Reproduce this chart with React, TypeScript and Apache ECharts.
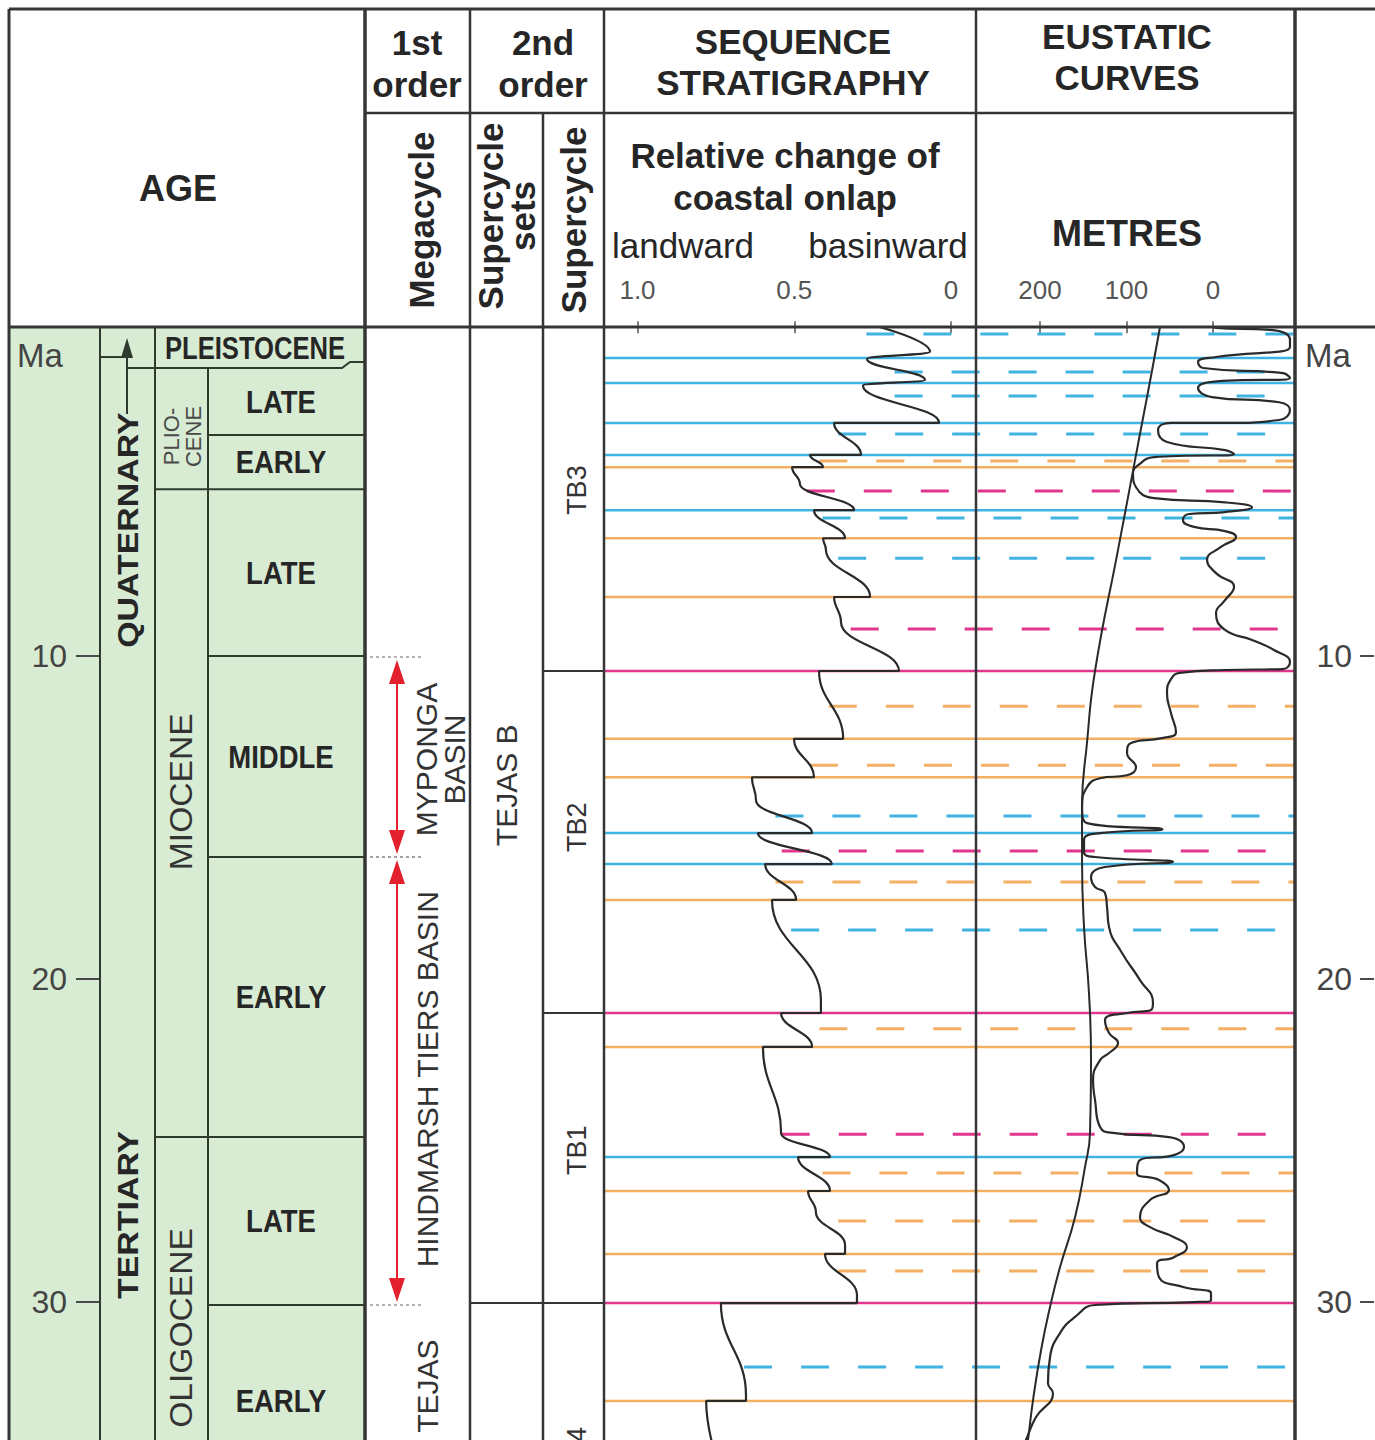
import React, { useEffect, useRef } from "react";
import * as echarts from "echarts";

// ---------------- data ----------------
const MA_TOP = -0.19;
const MA_BOTTOM = 34.27;
const MA_TICKS = [10, 20, 30];

const ONLAP_MIN = -0.0797;
const ONLAP_MAX = 1.1069;
const ONLAP_TICKS = [1.0, 0.5, 0];

const METRES_MIN = -94.8;
const METRES_MAX = 274.0;
const METRE_TICKS = [200, 100, 0];

const PERIODS = [
  { name: "QUATERNARY", from: -0.19, to: 0.74 },
  { name: "TERTIARY", from: 0.74, to: 36.0 },
];
const PERIOD_LABEL_AT = [6.1, 27.3];

const EPOCHS = [
  { name: "PLEISTOCENE", from: -0.19, to: 1.08 },
  { name: "PLIO-\nCENE", from: 1.08, to: 4.83 },
  { name: "MIOCENE", from: 4.83, to: 24.89 },
  { name: "OLIGOCENE", from: 24.89, to: 36.0 },
];
const EPOCH_LABEL_AT = [0.45, 3.2, 14.2, 30.8];

const STAGES = [
  { name: "LATE", from: 1.08, to: 3.15 },
  { name: "EARLY", from: 3.15, to: 4.83 },
  { name: "LATE", from: 4.83, to: 10.0 },
  { name: "MIDDLE", from: 10.0, to: 16.22 },
  { name: "EARLY", from: 16.22, to: 24.89 },
  { name: "LATE", from: 24.89, to: 30.09 },
  { name: "EARLY", from: 30.09, to: 36.0 },
];

const BASINS = [
  { name: "MYPONGA\nBASIN", from: 10.03, to: 16.22 },
  { name: "HINDMARSH TIERS BASIN", from: 16.22, to: 30.09 },
];
const BASIN_LABEL_AT = [13.2, 23.1];
const MEGACYCLE_LABELS = [{ name: "TEJAS", at: 32.6 }];

const SUPERCYCLE_SETS = [{ name: "TEJAS B", from: -1, to: 30.03 }];
const SUPERCYCLE_SET_LABEL_AT = [14.0];
const SUPERCYCLES = [
  { name: "TB3", from: -1, to: 10.46 },
  { name: "TB2", from: 10.46, to: 21.05 },
  { name: "TB1", from: 21.05, to: 30.03 },
  { name: "TA4", from: 30.03, to: 40 },
];
const SUPERCYCLE_LABEL_AT = [4.86, 15.3, 25.3, 34.6];

// relative change of coastal onlap [onlap, Ma]
const ONLAP = [
  [0.29, -0.35], [0.067, 0.58], [0.268, 0.8], [0.083, 1.45], [0.281, 1.62],
  [0.038, 2.78], [0.373, 2.78], [0.287, 3.77], [0.45, 3.77],
  [0.408, 4.15], [0.507, 4.15], [0.482, 4.67], [0.309, 5.48], [0.437, 5.48],
  [0.338, 6.35], [0.408, 6.35], [0.399, 6.71], [0.258, 8.17], [0.373, 8.17],
  [0.351, 8.94], [0.166, 10.46], [0.421, 10.46], [0.344, 12.56], [0.501, 12.56],
  [0.437, 13.75], [0.635, 13.75], [0.622, 14.46], [0.443, 15.48], [0.616, 15.48],
  [0.38, 16.44], [0.593, 16.44], [0.494, 17.55], [0.571, 17.55], [0.415, 20.65],
  [0.415, 21.05], [0.542, 21.05], [0.443, 22.1], [0.6, 22.1], [0.542, 24.77],
  [0.386, 25.51], [0.488, 25.51], [0.386, 26.56], [0.456, 26.56], [0.431, 27.21],
  [0.338, 28.23], [0.338, 28.51], [0.402, 28.51], [0.3, 29.78], [0.3, 30.03],
  [0.734, 30.03], [0.654, 32.88], [0.654, 33.06], [0.781, 33.06], [0.737, 35.2],
];

// short-term eustatic curve [metres, Ma]
const EUSTATIC_SHORT = [
  [9.2, -0.47], [-3.5, -0.16], [-65.9, -0.1], [-89.0, 0.21], [-89.0, 0.43],
  [-3.5, 0.74], [17.3, 0.89], [11.6, 1.08], [-80.9, 1.24], [-89.0, 1.39],
  [1.2, 1.51], [17.3, 1.7], [1.2, 1.98], [-76.3, 2.14], [-89.0, 2.38],
  [-76.3, 2.69], [-13.9, 2.78], [48.6, 2.78], [63.6, 3.0], [53.2, 3.37],
  [-13.9, 3.62], [-24.3, 3.74], [68.2, 3.84], [86.7, 4.09], [92.5, 4.34],
  [89.0, 4.77], [68.2, 5.11], [-13.9, 5.24], [-45.1, 5.39], [-13.9, 5.54],
  [27.7, 5.6], [34.7, 5.79], [22.0, 6.0], [-13.9, 6.13], [-26.6, 6.31],
  [-9.2, 6.62], [6.9, 7.02], [-3.5, 7.43], [-24.3, 7.86], [-13.9, 8.27],
  [-3.5, 8.67], [-13.9, 9.19], [-45.1, 9.5], [-70.5, 9.81], [-89.0, 10.18],
  [-80.9, 10.4], [-13.9, 10.43], [38.2, 10.52], [48.6, 10.71], [53.2, 11.15],
  [48.6, 11.76], [42.8, 12.35], [59.0, 12.54], [94.8, 12.69], [99.4, 13.0],
  [89.0, 13.44], [99.4, 13.69], [130.6, 13.78], [145.7, 14.06], [151.4, 14.67],
  [145.7, 15.17], [58.5, 15.36], [130.6, 15.48], [149.1, 15.69], [149.1, 16.07],
  [136.4, 16.22], [46.2, 16.37], [124.9, 16.53], [141.0, 16.84], [136.4, 17.15],
  [124.9, 17.33], [122.5, 17.77], [120.2, 18.39], [105.2, 19.19], [84.4, 20.03],
  [69.4, 20.74], [71.7, 20.96], [99.4, 21.05], [124.9, 21.27], [120.2, 21.67],
  [109.8, 21.98], [120.2, 22.29], [130.6, 22.51], [138.7, 23.13], [136.4, 23.74],
  [130.6, 24.58], [113.3, 24.77], [50.9, 24.89], [33.5, 25.2], [45.1, 25.45],
  [84.4, 25.6], [87.9, 26.0], [62.4, 26.22], [50.9, 26.53], [72.8, 26.84],
  [84.4, 27.37], [72.8, 27.68], [45.1, 27.99], [30.1, 28.3], [45.1, 28.61],
  [64.7, 28.8], [62.4, 29.23], [33.5, 29.54], [2.3, 29.73], [2.3, 29.94],
  [22.0, 30.0], [136.4, 30.09], [159.5, 30.46], [176.9, 30.96], [188.4, 31.7],
  [190.8, 32.51], [185.0, 32.82], [204.6, 33.56], [216.2, 34.27], [225.4, 34.89],
];

// long-term eustatic curve [metres, Ma]
const EUSTATIC_LONG = [
  [59.0, -0.72], [61.3, -0.19], [89.0, 3.77], [109.8, 6.71], [136.4, 10.46],
  [145.7, 12.69], [151.4, 14.67], [151.4, 16.31], [149.1, 18.39], [143.4, 20.43],
  [141.0, 22.51], [142.2, 24.77], [148.0, 25.82], [159.5, 27.37], [176.9, 28.92],
  [188.4, 30.15], [198.8, 31.49], [208.1, 33.04], [213.9, 34.27], [217.3, 34.89],
];

// surfaces: solid lines [Ma]; dashed lines [Ma, onlap value where the dash starts]
const SOLID_BLUE = [0.77, 1.54, 2.78, 3.77, 5.48, 15.48, 16.44, 25.51];
const SOLID_ORANGE = [4.15, 6.35, 8.17, 12.56, 13.75, 17.55, 22.1, 26.56, 28.51, 33.06];
const SOLID_MAGENTA = [10.46, 21.05, 30.03];
const DASHED_BLUE = [
  [0.03, 0.27], [1.2, 0.18], [1.95, 0.18], [3.12, 0.36], [5.72, 0.41],
  [6.97, 0.36], [14.95, 0.56], [18.48, 0.51], [32.01, 0.66],
];
const DASHED_ORANGE = [
  [3.96, 0.42], [11.55, 0.39], [13.38, 0.45], [16.99, 0.56], [21.54, 0.42],
  [26.0, 0.41], [27.49, 0.36], [29.04, 0.36],
];
const DASHED_MAGENTA = [[4.89, 0.46], [9.16, 0.32], [16.03, 0.54], [24.8, 0.54]];

// ---------------- layout & style ----------------
const W = 1375;
const H = 1440;
const GRID_TOP = 327;
const GRID_H = H - GRID_TOP;
const COL = {
  left: 9, period: 100, arrow: 127, epoch: 155, stage: 208, ageRight: 365,
  basinArrow: 397, sets: 470, sc: 543, seq: 604, eus: 976, right: 1295,
};
const FONT = "'Liberation Sans', Arial, Helvetica, sans-serif";
const FRAME = "#353535";
const AGE_LINE = "#2e3a2e";
const GREEN = "#d8ebd3";
const TEXT = "#262626";
const GREY_TEXT = "#444444";
const CURVE = "#2a2a2a";
const RED = "#e3202b";
const SURF_COLORS = ["#40b3e2", "#f3b064", "#e0368e"];

function txt(text: string, x: number, y: number, font: string, o: any = {}) {
  return {
    type: "text",
    x,
    y,
    rotation: o.rot || 0,
    scaleX: o.sx || 1,
    z: o.z == null ? 5 : o.z,
    silent: true,
    style: {
      text,
      font,
      fill: o.fill || TEXT,
      align: "center",
      verticalAlign: "middle",
      textAlign: "center",
      textVerticalAlign: "middle",
      lineHeight: o.lh,
    },
  };
}

function renderAge(params: any, api: any) {
  const Y = (m: number) => api.coord([0, m])[1];
  const ch: any[] = [];
  const L = (x1: number, y1: number, x2: number, y2: number) =>
    ch.push({ type: "line", shape: { x1, y1, x2, y2 }, style: { stroke: AGE_LINE, lineWidth: 2 } });
  const top = Y(MA_TOP);
  const bottom = Y(40);
  // vertical separators
  L(COL.period, top, COL.period, bottom);
  L(COL.epoch, top, COL.epoch, bottom);
  L(COL.stage, Y(EPOCHS[1].from), COL.stage, bottom);
  // period boundary + arrow label
  L(COL.period, Y(PERIODS[0].to), COL.arrow, Y(PERIODS[0].to));
  L(COL.arrow, Y(2.5), COL.arrow, Y(0.5));
  const tipY = Y(0.15);
  ch.push({ type: "polygon", shape: { points: [[COL.arrow, tipY], [COL.arrow - 6, tipY + 20], [COL.arrow + 6, tipY + 20]] }, style: { fill: AGE_LINE } });
  PERIODS.forEach((p, i) => {
    ch.push(txt(p.name, COL.arrow + 1, Y(PERIOD_LABEL_AT[i]), `bold 30px ${FONT}`, { rot: Math.PI / 2, sx: 1.13 }));
  });
  // pleistocene lower boundary (with jog)
  const yPl = Y(EPOCHS[0].to);
  const yPl2 = Y(0.89);
  ch.push({ type: "polyline", shape: { points: [[COL.arrow, yPl], [342, yPl], [350, yPl2], [COL.ageRight, yPl2]] }, style: { stroke: AGE_LINE, lineWidth: 2, fill: null } });
  // epochs
  EPOCHS.forEach((e, i) => {
    if (i >= 2) L(COL.epoch, Y(e.from), COL.ageRight, Y(e.from));
    const yc = Y(EPOCH_LABEL_AT[i]);
    if (i === 0) ch.push(txt(e.name, 255, yc, `bold 32px ${FONT}`, { sx: 0.8 }));
    else if (i === 1) ch.push(txt(e.name, 182, yc, `22px ${FONT}`, { rot: Math.PI / 2, lh: 22, fill: "#4a4a4a" }));
    else ch.push(txt(e.name, 181, yc, `32px ${FONT}`, { rot: Math.PI / 2, sx: 1.05, fill: "#333" }));
  });
  // stages
  const epochStarts = EPOCHS.map((e) => e.from);
  STAGES.forEach((s, i) => {
    if (i > 0 && epochStarts.indexOf(s.from) < 0) L(COL.stage, Y(s.from), COL.ageRight, Y(s.from));
    ch.push(txt(s.name, 281, Y((s.from + s.to) / 2), `bold 32px ${FONT}`, { sx: 0.86 }));
  });
  return { type: "group", children: ch };
}

function renderColumns(params: any, api: any) {
  const Y = (m: number) => api.coord([0, m])[1];
  const ch: any[] = [];
  const ax = COL.basinArrow;
  BASINS.forEach((b, i) => {
    const y1 = Y(b.from) + 3;
    const y2 = Y(b.to) - 3;
    ch.push({ type: "line", shape: { x1: ax, y1: y1 + 10, x2: ax, y2: y2 - 10 }, style: { stroke: RED, lineWidth: 2 } });
    ch.push({ type: "polygon", shape: { points: [[ax, y1], [ax - 8, y1 + 24], [ax + 8, y1 + 24]] }, style: { fill: RED } });
    ch.push({ type: "polygon", shape: { points: [[ax, y2], [ax - 8, y2 - 24], [ax + 8, y2 - 24]] }, style: { fill: RED } });
    [b.from, b.to].forEach((m) => {
      ch.push({ type: "line", shape: { x1: 370, y1: Y(m), x2: 422, y2: Y(m) }, style: { stroke: "#9a9a9a", lineWidth: 1.5, lineDash: [3, 3] } });
    });
    ch.push(txt(b.name, i === 0 ? 440 : 427, Y(BASIN_LABEL_AT[i]), `30px ${FONT}`, { rot: Math.PI / 2, lh: 28, fill: "#333" }));
  });
  MEGACYCLE_LABELS.forEach((m) => ch.push(txt(m.name, 427, Y(m.at), `30px ${FONT}`, { rot: Math.PI / 2, fill: "#333" })));
  SUPERCYCLE_SETS.forEach((s, i) => {
    ch.push({ type: "line", shape: { x1: COL.sets, y1: Y(s.to), x2: COL.sc, y2: Y(s.to) }, style: { stroke: FRAME, lineWidth: 2 } });
    ch.push(txt(s.name, 506, Y(SUPERCYCLE_SET_LABEL_AT[i]), `30px ${FONT}`, { rot: Math.PI / 2, fill: "#333" }));
  });
  SUPERCYCLES.forEach((s, i) => {
    if (i < SUPERCYCLES.length - 1)
      ch.push({ type: "line", shape: { x1: COL.sc, y1: Y(s.to), x2: COL.seq, y2: Y(s.to) }, style: { stroke: FRAME, lineWidth: 2 } });
    ch.push(txt(s.name, 577, Y(SUPERCYCLE_LABEL_AT[i]), `27px ${FONT}`, { rot: Math.PI / 2, fill: "#333" }));
  });
  return { type: "group", children: ch };
}

function renderSurface(params: any, api: any) {
  const v = api.value(0);
  const m = api.value(1);
  const c = api.value(2);
  const dashed = api.value(3) === 1;
  const p = api.coord([v, m]);
  return {
    type: "line",
    shape: { x1: p[0], y1: p[1], x2: COL.right, y2: p[1] },
    style: { stroke: SURF_COLORS[c], lineWidth: dashed ? 3 : 2.5, lineDash: dashed ? [28, 29] : null },
  };
}

function buildOption() {
  const surfaces: number[][] = [];
  SOLID_BLUE.forEach((m) => surfaces.push([ONLAP_MAX, m, 0, 0]));
  SOLID_ORANGE.forEach((m) => surfaces.push([ONLAP_MAX, m, 1, 0]));
  SOLID_MAGENTA.forEach((m) => surfaces.push([ONLAP_MAX, m, 2, 0]));
  DASHED_BLUE.forEach(([m, v]) => surfaces.push([v, m, 0, 1]));
  DASHED_ORANGE.forEach(([m, v]) => surfaces.push([v, m, 1, 1]));
  DASHED_MAGENTA.forEach(([m, v]) => surfaces.push([v, m, 2, 1]));

  const gridBase = { top: GRID_TOP, height: GRID_H, containLabel: false, outerBoundsMode: "none", show: false };
  const maAxis = (gridIndex: number, extra: any = {}) => ({
    gridIndex, type: "value", min: MA_TOP, max: MA_BOTTOM, inverse: true, show: false,
    splitLine: { show: false }, ...extra,
  });
  const maTickAxis = (gridIndex: number, tickLen: number, margin: number) =>
    maAxis(gridIndex, {
      show: true,
      position: "left",
      axisLine: { show: false },
      axisTick: { show: true, length: tickLen, customValues: MA_TICKS, lineStyle: { color: "#4a4a4a", width: 2 } },
      axisLabel: { show: true, customValues: MA_TICKS, margin, fontSize: 32, fontFamily: FONT, color: GREY_TEXT },
    });
  const topAxis = (gridIndex: number, min: number, max: number, ticks: number[], fmt: (v: number) => string) => ({
    gridIndex, type: "value", min, max, inverse: true, position: "top",
    axisLine: { show: false },
    splitLine: { show: false },
    axisTick: { show: true, length: 12, customValues: ticks, lineStyle: { color: "#555", width: 1.5 } },
    axisLabel: { show: true, customValues: ticks, formatter: fmt, margin: 24, fontSize: 26, fontFamily: FONT, color: "#555" },
  });

  const HDR = `bold 35px ${FONT}`;
  const graphic: any[] = [
    { type: "rect", shape: { x: COL.left, y: GRID_TOP, width: COL.ageRight - COL.left, height: H - GRID_TOP }, style: { fill: GREEN }, z: 0, silent: true },
    // header texts
    txt("AGE", 178, 188, `bold 36px ${FONT}`),
    txt("1st\norder", 417, 63, HDR, { lh: 42 }),
    txt("2nd\norder", 543, 63, HDR, { lh: 42 }),
    txt("SEQUENCE\nSTRATIGRAPHY", 793, 62, HDR, { lh: 41 }),
    txt("EUSTATIC\nCURVES", 1127, 57, HDR, { lh: 41 }),
    txt("Megacycle", 421, 220, HDR, { rot: Math.PI / 2 }),
    txt("Supercycle\nsets", 506, 216, HDR, { rot: Math.PI / 2, lh: 32 }),
    txt("Supercycle", 573, 220, HDR, { rot: Math.PI / 2 }),
    txt("Relative change of\ncoastal onlap", 785, 176, HDR, { lh: 42 }),
    txt("landward", 683, 245, `35px ${FONT}`),
    txt("basinward", 888, 245, `35px ${FONT}`),
    txt("METRES", 1127, 233, `bold 36px ${FONT}`),
    txt("Ma", 40, 355, `33px ${FONT}`, { fill: GREY_TEXT }),
    txt("Ma", 1328, 355, `33px ${FONT}`, { fill: GREY_TEXT }),
  ];
  const frame = (x1: number, y1: number, x2: number, y2: number, w = 2.5) =>
    graphic.push({ type: "line", shape: { x1, y1, x2, y2 }, style: { stroke: FRAME, lineWidth: w }, z: 50, silent: true });
  frame(COL.left, 9, W, 9, 3);
  frame(COL.ageRight, 113, COL.right, 113);
  frame(COL.left, GRID_TOP, W, GRID_TOP, 3);
  frame(COL.left, 9, COL.left, H, 3);
  frame(COL.ageRight, 9, COL.ageRight, H, 3.5);
  frame(COL.sets, 9, COL.sets, H);
  frame(COL.sc, 113, COL.sc, H);
  frame(COL.seq, 9, COL.seq, H);
  frame(COL.eus, 9, COL.eus, H);
  frame(COL.right, 9, COL.right, H, 3.5);

  return {
    animation: false,
    backgroundColor: "#ffffff",
    grid: [
      { ...gridBase, left: 0, width: W },
      { ...gridBase, left: COL.seq, width: COL.eus - COL.seq },
      { ...gridBase, left: COL.eus, width: COL.right - COL.eus },
      { ...gridBase, left: COL.period, width: 1 },
      { ...gridBase, left: W - 1, width: 1 },
    ],
    xAxis: [
      { gridIndex: 0, type: "value", min: 0, max: W, show: false },
      topAxis(1, ONLAP_MIN, ONLAP_MAX, ONLAP_TICKS, (v: number) => (v === 0 ? "0" : v.toFixed(1))),
      topAxis(2, METRES_MIN, METRES_MAX, METRE_TICKS, (v: number) => String(v)),
      { gridIndex: 3, type: "value", min: 0, max: 1, show: false },
      { gridIndex: 4, type: "value", min: 0, max: 1, show: false },
    ],
    yAxis: [maAxis(0), maAxis(1), maAxis(2), maTickAxis(3, 24, 33), maTickAxis(4, 14, 22)],
    graphic,
    series: [
      { type: "custom", xAxisIndex: 0, yAxisIndex: 0, data: [[0, 0]], renderItem: renderAge, z: 2, silent: true },
      { type: "custom", xAxisIndex: 0, yAxisIndex: 0, data: [[0, 0]], renderItem: renderColumns, z: 2, silent: true },
      { type: "custom", xAxisIndex: 1, yAxisIndex: 1, data: surfaces, renderItem: renderSurface, z: 1, silent: true },
      {
        type: "line", name: "Coastal onlap", xAxisIndex: 1, yAxisIndex: 1, data: ONLAP,
        symbol: "none", smooth: 0.45, smoothMonotone: "y", z: 3, silent: true,
        lineStyle: { color: CURVE, width: 2.2 },
      },
      {
        type: "line", name: "Long-term eustatic", xAxisIndex: 2, yAxisIndex: 2, data: EUSTATIC_LONG,
        symbol: "none", smooth: 0.5, z: 3, silent: true,
        lineStyle: { color: CURVE, width: 2 },
      },
      {
        type: "line", name: "Short-term eustatic", xAxisIndex: 2, yAxisIndex: 2, data: EUSTATIC_SHORT,
        symbol: "none", smooth: 0.5, z: 3, silent: true,
        lineStyle: { color: CURVE, width: 2.2 },
      },
    ],
  };
}

export default function App() {
  const ref = useRef<HTMLDivElement>(null);
  useEffect(() => {
    if (!ref.current) return;
    const chart = echarts.init(ref.current, null, { renderer: "svg" });
    chart.setOption(buildOption() as any);
    return () => chart.dispose();
  }, []);
  return (
    <div
      ref={ref}
      style={{ position: "absolute", left: 0, top: 0, width: W, height: H, background: "#ffffff" }}
    />
  );
}
